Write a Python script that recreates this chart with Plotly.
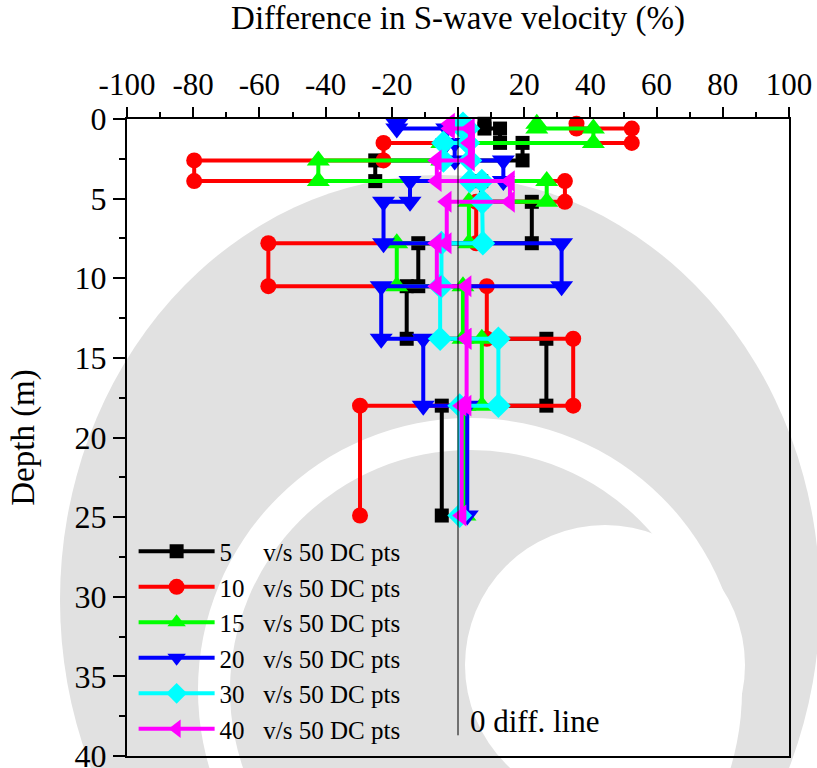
import plotly.graph_objects as go

# Layer boundaries (m) shared by the step profiles
depth_bounds = [0.3, 0.6, 1.5, 2.6, 3.9, 5.2, 7.8, 10.5, 13.8, 18.0, 24.9]

# Difference in S-wave velocity (%) for each layer, per number of DC points
diff_5 = [8.0, 12.7, 19.5, -25.0, 7.0, 22.3, -12.0, -15.5, 26.7, -4.9]
diff_10 = [35.8, 52.5, -22.5, -79.7, 32.3, 5.5, -57.3, 8.7, 34.8, -29.6]
diff_15 = [23.8, 40.9, -4.9, -42.2, 26.8, 3.3, -18.5, 1.5, 7.2, 2.1]
diff_20 = [-18.5, -3.4, -1.0, 13.7, -14.5, -22.5, 31.3, -23.2, -10.5, 2.8]
diff_30 = [1.5, 3.0, -4.4, 3.6, 7.2, 7.5, -5.0, -5.4, 12.2, 0.5]
diff_40 = [-2.4, 3.6, 3.6, -6.4, 15.7, -3.4, -6.4, 2.6, 2.6, 1.1]

series_names = ["5", "10", "15", "20", "30", "40"]
series_values = [diff_5, diff_10, diff_15, diff_20, diff_30, diff_40]
series_colors = ["#000000", "#FF0000", "#00FF00", "#0000FF", "#00FFFF", "#FF00FF"]
series_symbols = ["square", "circle", "triangle-up", "triangle-down", "diamond", "triangle-left"]
series_sizes = [14, 16, 20, 20, 19, 19]

x_ticks = [-100, -80, -60, -40, -20, 0, 20, 40, 60, 80, 100]
x_tick_text = [str(v) for v in x_ticks]  # plain hyphen for negatives

FONT = "Liberation Serif"
NB = "\u00a0"
GRAY = "#e1e1e1"

# plot-area geometry in pixels (used for the background emblem)
L, R, T, B = 127, 789, 119, 756


def step_profile(values, bounds):
    xs, ys = [], []
    for i, v in enumerate(values):
        xs += [v, v]
        ys += [bounds[i], bounds[i + 1]]
    return xs, ys


def px_ellipse(cx, cy, rx, ry, color):
    # ellipse given in page pixels, placed in paper coordinates
    return dict(type="circle", xref="paper", yref="paper", layer="below",
                x0=(cx - rx - L) / (R - L), x1=(cx + rx - L) / (R - L),
                y0=(B - (cy + ry)) / (B - T), y1=(B - (cy - ry)) / (B - T),
                fillcolor=color, line=dict(width=0))


fig = go.Figure()

for name, vals, col, sym, sz in zip(series_names, series_values, series_colors,
                                    series_symbols, series_sizes):
    xs, ys = step_profile(vals, depth_bounds)
    pad = NB * (5 if len(name) == 1 else 3)
    fig.add_trace(go.Scatter(
        x=xs, y=ys, mode="lines+markers",
        name=f"{name}{pad}v/s 50 DC pts",
        line=dict(color=col, width=4),
        marker=dict(symbol=sym, size=sz, color=col, line=dict(width=0)),
        cliponaxis=False,
    ))

# faint circular emblem in the background
shapes = [
    px_ellipse(440, 600, 380, 425, GRAY),
    px_ellipse(470, 690, 272, 272, "white"),
    px_ellipse(470, 690, 240, 240, GRAY),
    px_ellipse(605, 665, 140, 140, "white"),
]
# zero-difference reference line
shapes.append(dict(type="line", x0=0, x1=0, y0=0, y1=38.7, xref="x", yref="y",
                   line=dict(color="black", width=1)))
fig.update_layout(shapes=shapes)

fig.add_annotation(x=3, y=37.85, xref="x", yref="y", text="0 diff. line",
                   showarrow=False, xanchor="left", yanchor="middle",
                   font=dict(family=FONT, size=31, color="black"))

fig.update_layout(
    width=817, height=768,
    margin=dict(l=L, r=817 - R, t=T, b=768 - B, autoexpand=False),
    paper_bgcolor="white", plot_bgcolor="rgba(0,0,0,0)",
    font=dict(family=FONT, size=25, color="black"),
    showlegend=True,
    legend=dict(x=0.01, y=0.357, xanchor="left", yanchor="top",
                bgcolor="rgba(0,0,0,0)", borderwidth=0,
                font=dict(family=FONT, size=25), itemwidth=76,
                tracegroupgap=0),
    xaxis=dict(side="top", range=[-100, 100], tickmode="array",
               tickvals=x_ticks, ticktext=x_tick_text,
               ticks="outside", ticklen=10, tickwidth=1.5, tickcolor="black",
               minor=dict(dtick=10, tick0=-100, ticks="outside", ticklen=5,
                          tickwidth=1.5, tickcolor="black"),
               showline=True, linecolor="black", linewidth=2, mirror=True,
               showgrid=False, zeroline=False, automargin=False,
               tickfont=dict(family=FONT, size=31),
               title=dict(text="Difference in S-wave velocity (%)", standoff=30,
                          font=dict(family=FONT, size=33))),
    xaxis2=dict(overlaying="x", side="bottom", anchor="y", range=[-100, 100],
                tickmode="linear", tick0=-100, dtick=10, ticks="inside", ticklen=4,
                tickwidth=1, tickcolor="black", showticklabels=False,
                showgrid=False, zeroline=False,
                showline=True, linecolor="black", linewidth=2),
    yaxis=dict(range=[40, 0], tickmode="linear", tick0=0, dtick=5,
               ticks="outside", ticklen=12, tickwidth=1.5, tickcolor="black",
               minor=dict(dtick=2.5, ticks="outside", ticklen=6, tickwidth=1.5,
                          tickcolor="black"),
               showline=True, linecolor="black", linewidth=2, mirror=True,
               showgrid=False, zeroline=False, automargin=False,
               ticklabeloverflow="allow",
               tickfont=dict(family=FONT, size=32),
               title=dict(text="Depth (m)", standoff=30, font=dict(family=FONT, size=33))),
)

fig.write_html("out.html")
